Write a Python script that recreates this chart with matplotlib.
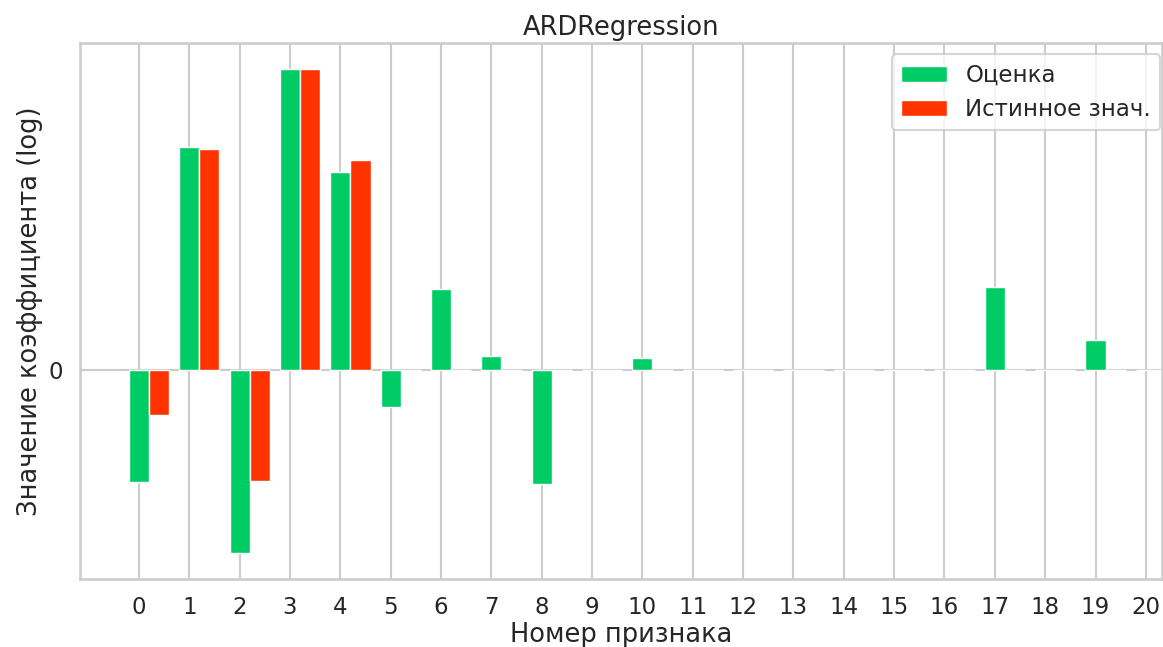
import numpy as np
import matplotlib
matplotlib.use('Agg')
import matplotlib.pyplot as plt
import seaborn as sns

# --- данные ---
features = list(range(21))
estimate = [-5.47, 40.1, -20.1, 150.0, 26.1, -0.85, 2.86, 0.263, -5.69, 0.0,
            0.22, 0.0, 0.0, 0.0, 0.0, 0.0, 0.0, 2.99, 0.0, 0.65, 0.0]
true_coef = [-1.12, 38.8, -5.36, 150.0, 32.1, 0.0, 0.0, 0.0, 0.0, 0.0,
             0.0, 0.0, 0.0, 0.0, 0.0, 0.0, 0.0, 0.0, 0.0, 0.0, 0.0]

GREEN = '#00CC66'
RED = '#FF3300'

sns.set_theme(style='whitegrid', context='talk')
plt.rcParams['font.family'] = ['DejaVu Sans']


def fwd(v):
    v = np.asarray(v, dtype=float)
    return np.sign(v) * np.log1p(np.abs(v))


def inv(t):
    t = np.asarray(t, dtype=float)
    return np.sign(t) * np.expm1(np.abs(t))


fig = plt.figure(figsize=(11.63, 6.47), dpi=100)
ax = fig.add_axes([80 / 1163, (647 - 579) / 647, (1162 - 80) / 1163, (579 - 43) / 647])
ax.set_yscale('function', functions=(fwd, inv))

x = np.array(features)
ax.bar(x, estimate, 0.4, color=GREEN, edgecolor='white', linewidth=1, label='Оценка')
ax.bar(x + 0.4, true_coef, 0.4, color=RED, edgecolor='white', linewidth=1, label='Истинное знач.')

ax.set_xlim(-1.17, 20.32)
ax.set_ylim(-31.6, 231.8)
ax.set_xticks(x)
ax.set_yticks([0])
ax.set_yticklabels(['0'])
ax.tick_params(axis='both', labelsize=16.5)

ax.set_title('ARDRegression', fontsize=18.5)
ax.set_xlabel('Номер признака', fontsize=18.5, labelpad=2)
ax.set_ylabel('Значение коэффициента (log)', fontsize=18.5)
ax.legend(loc='upper right', fontsize=16.5, bbox_to_anchor=(1.009, 1.0))

fig.savefig('out.png', dpi=100)
